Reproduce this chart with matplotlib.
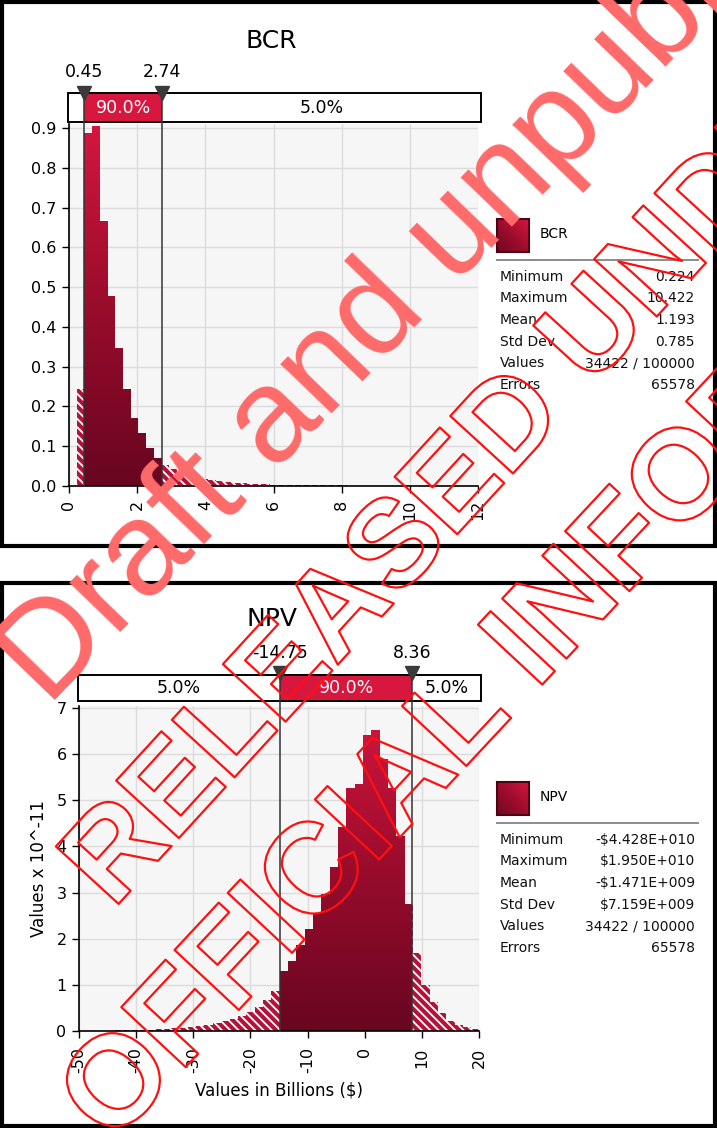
import matplotlib
matplotlib.use("Agg")
import matplotlib.pyplot as plt
import matplotlib.patheffects as pe
import matplotlib.transforms as mtransforms
from matplotlib.colors import LinearSegmentedColormap
from matplotlib.patches import Rectangle, PathPatch
from matplotlib.path import Path
from matplotlib.ticker import FormatStrFormatter
import numpy as np

# ---- BCR histogram (density), bins start at the minimum
bcr_bin_start = 0.224
bcr_bin_width = 0.2266
bcr_heights = [0.243, 0.887, 0.904, 0.666, 0.478, 0.346, 0.243, 0.172, 0.132, 0.095,
               0.071, 0.052, 0.042, 0.034, 0.027, 0.022, 0.018, 0.015, 0.012, 0.010,
               0.008, 0.007, 0.006, 0.005, 0.004, 0.003, 0.003, 0.0025, 0.0025, 0.002,
               0.002, 0.002, 0.0015, 0.0015, 0.0015, 0.001, 0.001, 0.001, 0.001, 0.001,
               0.0008, 0.0008, 0.0006, 0.0006, 0.0005]
bcr_delims = [0.45, 2.74]
bcr_pcts = ["5.0%", "90.0%", "5.0%"]
bcr_stats = [("Minimum", "0.224"), ("Maximum", "10.422"), ("Mean", "1.193"),
             ("Std Dev", "0.785"), ("Values", "34422 / 100000"), ("Errors", "65578")]

# ---- NPV histogram (values x 10^-11), x in billions
npv_bin_start = -44.1
npv_bin_width = 1.46
npv_heights = [0.008, 0.01, 0.015, 0.02, 0.025, 0.03, 0.04, 0.05, 0.065, 0.08,
               0.10, 0.13, 0.17, 0.21, 0.26, 0.32, 0.41, 0.51, 0.66, 0.86,
               1.30, 1.51, 1.85, 2.20, 2.55, 2.97, 3.55, 4.43, 5.27, 5.35,
               6.43, 6.53, 5.90, 5.27, 4.22, 2.76,
               1.68, 0.99, 0.63, 0.38, 0.22, 0.12, 0.08, 0.04]
npv_delims = [-14.75, 8.36]
npv_pcts = ["5.0%", "90.0%", "5.0%"]
npv_stats = [("Minimum", "-$4.428E+010"), ("Maximum", "$1.950E+010"), ("Mean", "-$1.471E+009"),
             ("Std Dev", "$7.159E+009"), ("Values", "34422 / 100000"), ("Errors", "65578")]

W, H = 717, 1128
CRIMSON = "#b5123a"
cmap = LinearSegmentedColormap.from_list("crim", ["#680620", "#9a0c2c", "#d4163f"])

plt.rcParams["font.family"] = ["DejaVu Sans"]
plt.rcParams["hatch.linewidth"] = 1.3
plt.rcParams["axes.unicode_minus"] = False

fig = plt.figure(figsize=(W / 100, H / 100), dpi=100)


def fx(x):
    return x / W


def fy(y):
    return 1 - y / H


def split_bins(start, width, heights, d0, d1):
    solid, tails = [], []
    for i, h in enumerate(heights):
        a = start + i * width
        b = a + width
        for lo, hi, inside in ((a, min(b, d0), False), (max(a, d0), min(b, d1), True), (max(a, d1), b, False)):
            if hi - lo > 1e-9:
                (solid if inside else tails).append((lo, hi - lo, h))
    return solid, tails


def draw_hist(ax, start, width, heights, delims, xlim, ylim):
    solid, tails = split_bins(start, width, heights, delims[0], delims[1])
    ax.bar([s[0] for s in tails], [s[2] for s in tails], width=[s[1] for s in tails], align="edge",
           color=CRIMSON, edgecolor="white", linewidth=0, hatch="\\\\\\\\", zorder=2)
    bars = ax.bar([s[0] for s in solid], [s[2] for s in solid], width=[s[1] for s in solid],
                  align="edge", color=CRIMSON, linewidth=0, zorder=2)
    # vertical gradient clipped to the solid bars
    paths = [p.get_path().transformed(p.get_patch_transform()) for p in bars.patches]
    clip = PathPatch(Path.make_compound_path(*paths), transform=ax.transData)
    grad = np.linspace(0, 1, 256).reshape(-1, 1)
    im = ax.imshow(grad, extent=[xlim[0], xlim[1], 0, ylim[1]], origin="lower", aspect="auto",
                   cmap=cmap, zorder=2.5)
    im.set_clip_path(clip)
    ax.set_xlim(*xlim)
    ax.set_ylim(*ylim)
    ax.set_facecolor("#f6f6f6")
    ax.grid(True, color="#dcdcdc", lw=1)
    ax.set_axisbelow(True)
    for s in ("top", "right"):
        ax.spines[s].set_visible(False)
    for s in ("left", "bottom"):
        ax.spines[s].set_linewidth(1.2)
    ax.tick_params(direction="out", length=5, width=1, labelsize=11.5)
    ax.tick_params(axis="x", labelrotation=90, pad=5)
    ax.tick_params(axis="y", pad=4)


def draw_delims(ax, delims, pcts, box_x, box_y, tri_y, lab_y):
    trans = mtransforms.blended_transform_factory(ax.transData, ax.transAxes)
    x0, x1 = ax.get_xlim()
    bl = x0 + box_x[0] * (x1 - x0)
    br = x0 + box_x[1] * (x1 - x0)
    ax.add_patch(Rectangle((delims[0], box_y[0]), delims[1] - delims[0], box_y[1] - box_y[0],
                           transform=trans, facecolor="#d8173f", edgecolor="none", clip_on=False, zorder=5))
    ax.add_patch(Rectangle((bl, box_y[0]), br - bl, box_y[1] - box_y[0], transform=trans,
                           facecolor="none", edgecolor="black", lw=1.4, clip_on=False, zorder=6))
    edges = [bl, delims[0], delims[1], br]
    px_per = ax.bbox.width / (x1 - x0)
    for i, txt in enumerate(pcts):
        if (edges[i + 1] - edges[i]) * px_per > 42:
            ax.text((edges[i] + edges[i + 1]) / 2, (box_y[0] + box_y[1]) / 2, txt, transform=trans,
                    ha="center", va="center", fontsize=12.5, zorder=7,
                    color="white" if i == 1 else "black")
    for d in delims:
        ax.plot([d, d], [0, box_y[1]], transform=trans, color="#333333", lw=1.1, clip_on=False, zorder=6)
        ax.plot(d, tri_y, marker="v", ms=10.5, color="#3a3a3a", transform=trans, clip_on=False, zorder=8)
        ax.text(d, lab_y, f"{d:.2f}", transform=trans, ha="center", va="center", fontsize=12.5)


def draw_legend(name, top, stats):
    sw = fig.add_axes([fx(497), fy(top + 33), fx(32), 33 / H])
    sw.imshow(np.add.outer(np.linspace(0, 1, 32), np.linspace(0, 1, 32))[::-1] / 2, cmap=cmap,
              aspect="auto", vmin=-0.1, vmax=1.0)
    sw.set_xticks([])
    sw.set_yticks([])
    for s in sw.spines.values():
        s.set_color("#4a0312")
        s.set_linewidth(1.5)
    fig.text(fx(540), fy(top + 15), name, fontsize=10, va="center", ha="left")
    fig.add_artist(plt.Line2D([fx(497), fx(698)], [fy(top + 41), fy(top + 41)], color="#8c8c8c", lw=1.4))
    for k, (lab, val) in enumerate(stats):
        y = top + 57.5 + k * 21.7
        fig.text(fx(500), fy(y), lab, fontsize=10, va="center", ha="left", color="#111111")
        fig.text(fx(695), fy(y), val, fontsize=10, va="center", ha="right", color="#111111")


# ---- top panel: BCR
ax1 = fig.add_axes([fx(69), fy(486), 409 / W, 362 / H])
draw_hist(ax1, bcr_bin_start, bcr_bin_width, bcr_heights, bcr_delims, (0, 12), (0, 0.91))
ax1.set_xticks(np.arange(0, 13, 2))
ax1.set_yticks(np.arange(0, 0.95, 0.1))
ax1.yaxis.set_major_formatter(FormatStrFormatter("%.1f"))
draw_delims(ax1, bcr_delims, bcr_pcts, (-0.0025, 1.0073), (1.0055, 1.0856), 1.0856, 1.143)
fig.text(fx(271), fy(41), "BCR", fontsize=18, ha="center", va="center")
draw_legend("BCR", 219, bcr_stats)

# ---- bottom panel: NPV
ax2 = fig.add_axes([fx(79), fy(1030.7), 400 / W, 324.7 / H])
draw_hist(ax2, npv_bin_start, npv_bin_width, npv_heights, npv_delims, (-50, 20), (0, 7.05))
ax2.set_xticks(np.arange(-50, 21, 10))
ax2.set_yticks(np.arange(0, 8, 1))
ax2.tick_params(axis="x", pad=7)
ax2.set_xlabel("Values in Billions ($)", fontsize=12, labelpad=6)
ax2.set_ylabel("Values x 10^-11", fontsize=12, labelpad=6)
draw_delims(ax2, npv_delims, npv_pcts, (-0.0025, 1.005), (1.0163, 1.0955), 1.1016, 1.163)
fig.text(fx(272), fy(619), "NPV", fontsize=18, ha="center", va="center")
draw_legend("NPV", 782, npv_stats)

# ---- panel frames
for y0, y1 in ((2, 546), (582.5, 1126)):
    fig.add_artist(Rectangle((fx(2), fy(y1)), fx(713), (y1 - y0) / H, transform=fig.transFigure,
                             fill=False, edgecolor="black", lw=3))

# ---- watermark
fig.text(fx(48), fy(708), "Draft and unpublished", rotation=46, rotation_mode="anchor",
         ha="left", va="baseline", fontsize=96, family="Liberation Sans", color="#ff6a6a")
outline = [pe.Stroke(linewidth=1.6, foreground="#ff1010")]
fig.text(fx(113), fy(910), "RELEASED UNDER", rotation=47.5, rotation_mode="anchor", ha="left",
         va="baseline", fontsize=89, family="Liberation Sans", weight="bold", color="none",
         path_effects=outline)
fig.text(fx(112), fy(1146), "OFFICIAL INFORMATION", rotation=47, rotation_mode="anchor", ha="left",
         va="baseline", fontsize=92, family="Liberation Sans", weight="bold", color="none",
         path_effects=outline)

fig.savefig("out.png", dpi=100)
